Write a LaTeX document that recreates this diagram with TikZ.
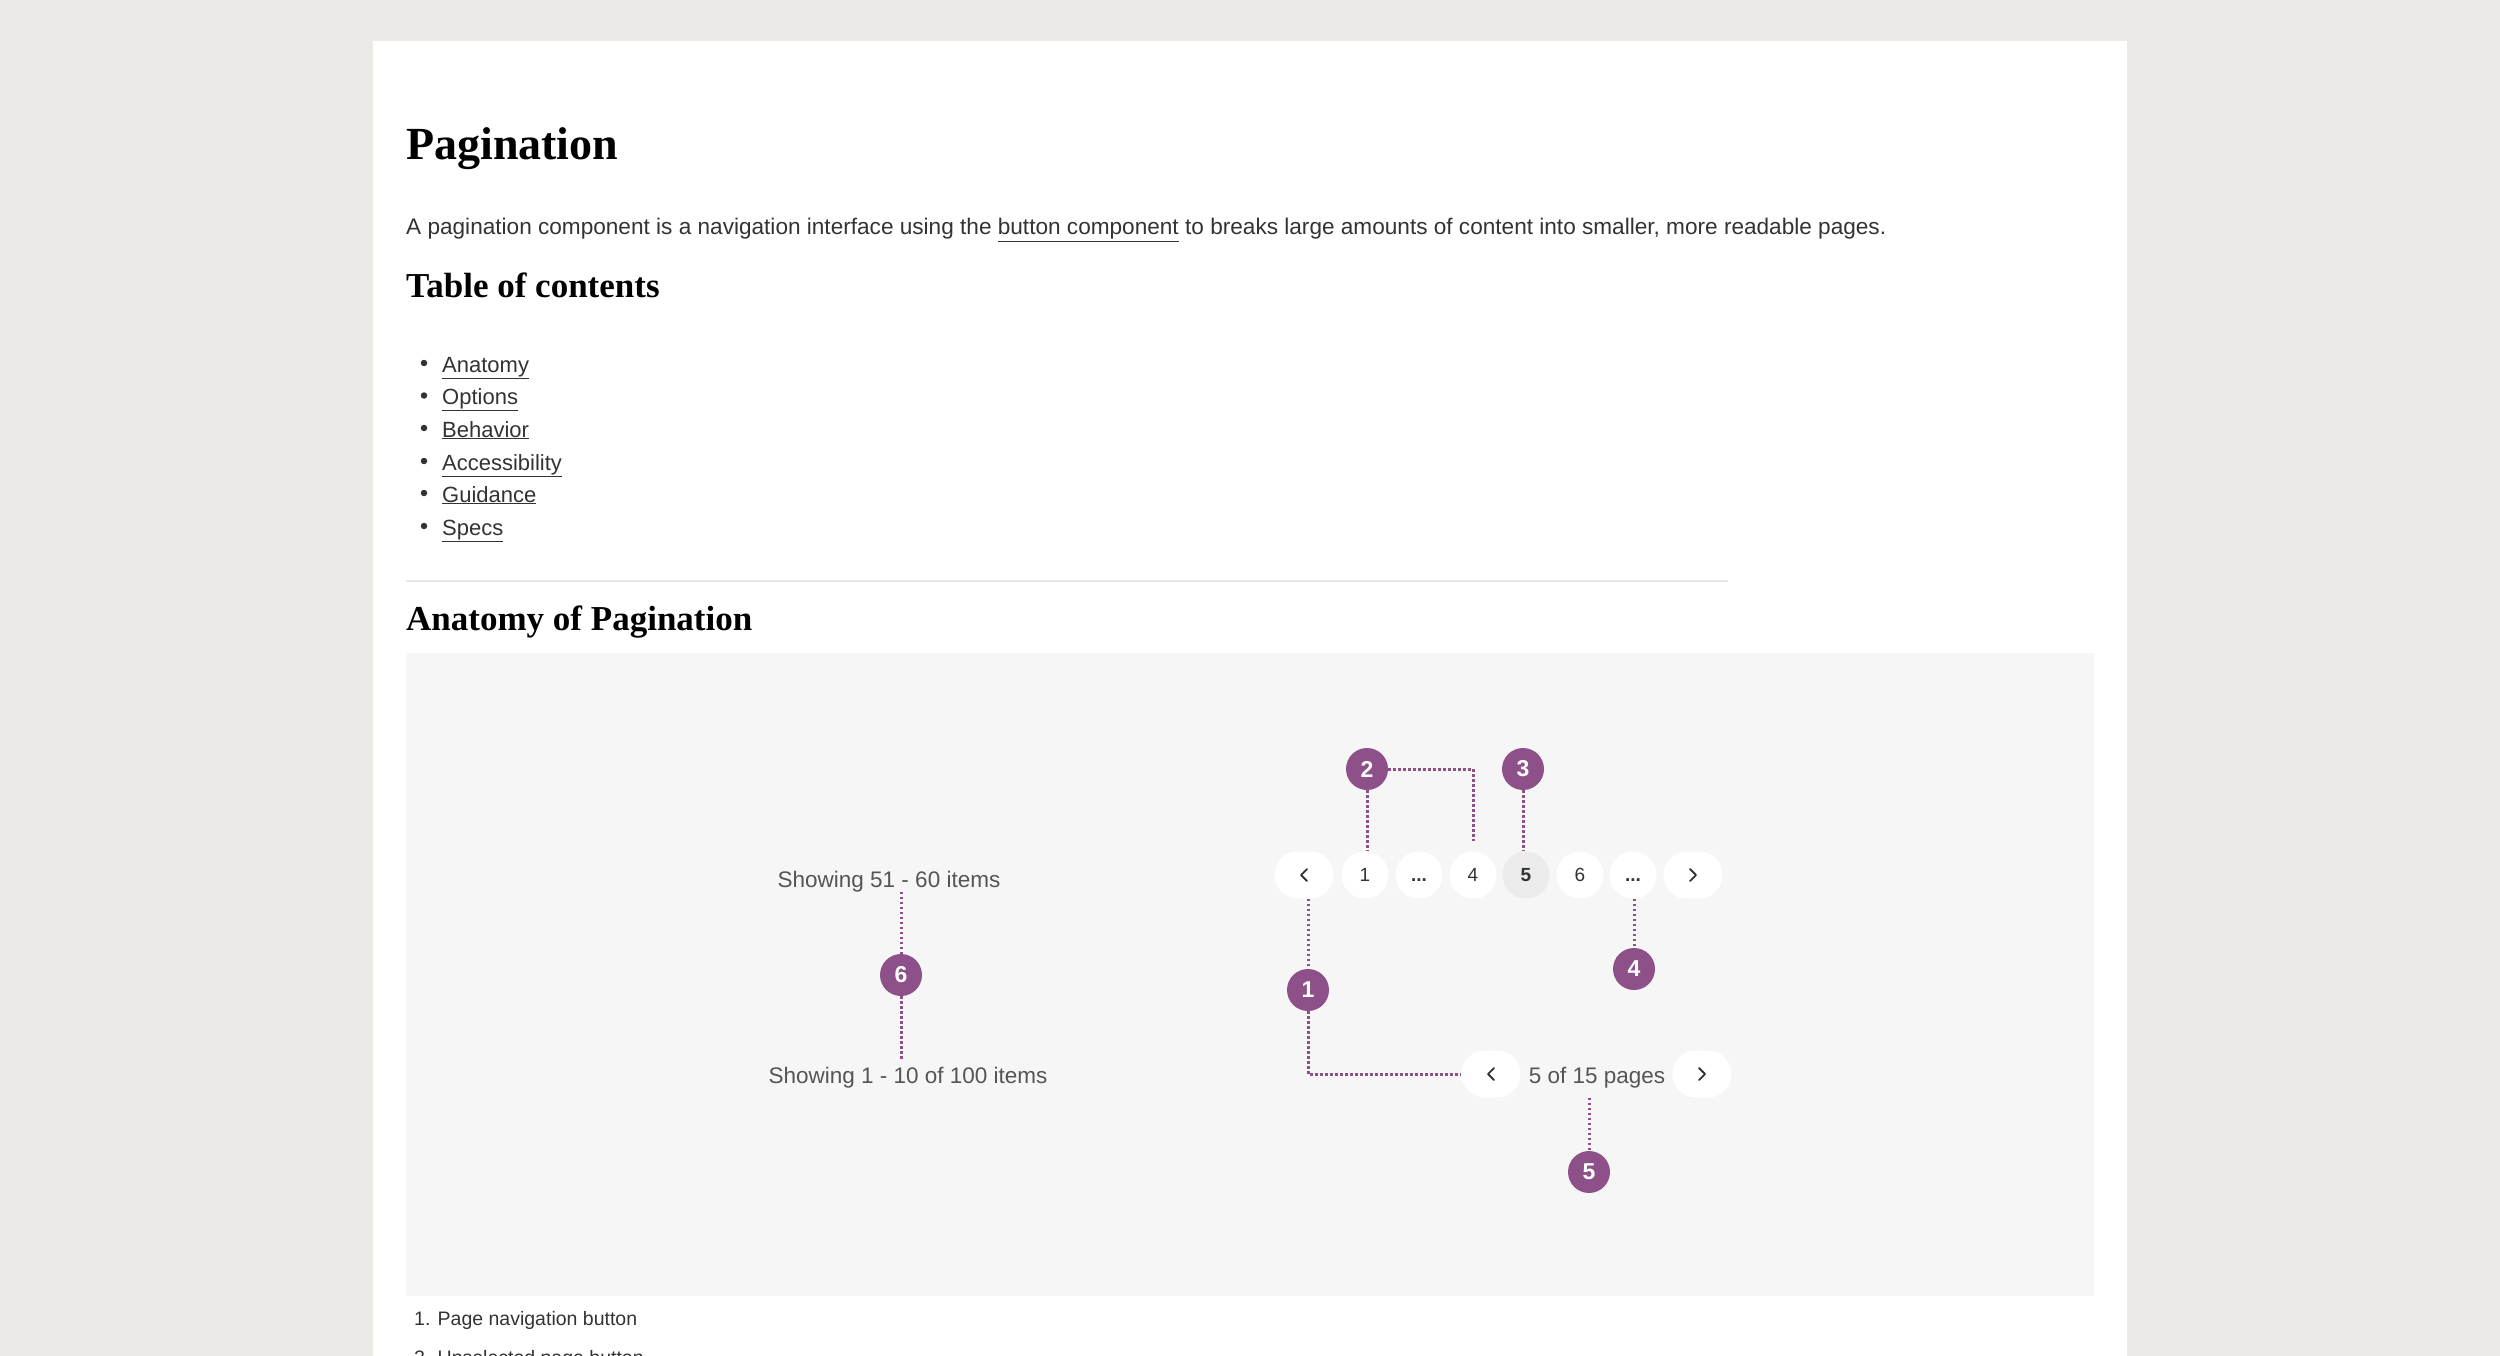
\documentclass[tikz,border=0pt]{standalone}
\usepackage{fontspec}
\setmainfont{Liberation Serif}
\setsansfont{Liberation Sans}
\usetikzlibrary{calc}
\definecolor{bgout}{RGB}{236,234,230}
\definecolor{panelc}{RGB}{246,246,246}
\definecolor{purp}{RGB}{142,80,137}
\definecolor{txt}{RGB}{51,51,51}
\definecolor{gtxt}{RGB}{85,85,85}
\definecolor{rulec}{RGB}{229,232,236}
\definecolor{selbg}{RGB}{235,235,235}
\newcommand{\myfs}[1]{\fontsize{#1}{#1}\selectfont}
\tikzset{
  heading/.style={anchor=base west, inner sep=0pt, font=\rmfamily\bfseries\myfs{35}, text=black},
  body/.style={anchor=base west, inner sep=0pt, font=\sffamily\myfs{22}, text=txt},
  panelt/.style={anchor=base, inner sep=0pt, font=\sffamily\myfs{22.5}, text=gtxt},
  bulletdot/.style={circle, fill=txt, minimum size=6.5pt, inner sep=0pt},
  circbtn/.style={circle, fill=white, minimum size=47pt, inner sep=0pt, text height=13.6pt, text depth=0pt, font=\sffamily\myfs{19}, text=txt},
  pillbtn/.style={rectangle, rounded corners=23.5pt, fill=white, minimum width=59pt, minimum height=47pt, inner sep=0pt},
  marker/.style={circle, fill=purp, minimum size=42pt, inner sep=0pt, text=white, font=\sffamily\bfseries\myfs{23}},
  lead/.style={draw=purp, line width=3pt, dash pattern=on 2.5pt off 2.5pt},
  chev/.style={draw=txt, line width=1.8pt, line cap=round, line join=round}
}
\begin{document}
\begin{tikzpicture}[x=1pt,y=-1pt]
\useasboundingbox (0,0) rectangle (2500,1356);
\fill[bgout] (0,0) rectangle (2500,1356);
\fill[white] (373,41) rectangle (2127,1356);
% header texts
\node[heading, font=\rmfamily\bfseries\myfs{46}] (title) at (406,160) {Pagination};
\node[body, font=\sffamily\myfs{22.6}] (intro) at (406,235) {A pagination component is a navigation interface using the \underline{button component} to breaks large amounts of content into smaller, more readable pages.};
\node[heading] (toc) at (406,298) {Table of contents};
\node[bulletdot] (bu1) at (424,363) {};
\node[bulletdot] (bu2) at (424,395.5) {};
\node[bulletdot] (bu3) at (424,428) {};
\node[bulletdot] (bu4) at (424,461) {};
\node[bulletdot] (bu5) at (424,493) {};
\node[bulletdot] (bu6) at (424,526) {};
\node[body] (li1) at (442,372) {\underline{Anatomy}};
\node[body] (li2) at (442,404.5) {\underline{Options}};
\node[body] (li3) at (442,437) {\underline{Behavior}};
\node[body] (li4) at (442,470) {\underline{Accessibility}};
\node[body] (li5) at (442,502) {\underline{Guidance}};
\node[body] (li6) at (442,535) {\underline{Specs}};
\draw[rulec, line width=2.5pt] (406,581) -- (1728,581);
\node[heading] (anat) at (406,630) {Anatomy of Pagination};
% panel
\fill[panelc] (406,653) rectangle (2094,1296);
% left texts
\node[panelt] (s1) at (889,887) {Showing 51 - 60 items};
\node[panelt] (s2) at (908,1083) {Showing 1 - 10 of 100 items};
% first pagination
\node[pillbtn] (bprev) at (1304,875) {};
\node[circbtn] (b1) at (1365,875) {1};
\node[circbtn] (bd1) at (1419,875) {\textbf{...}};
\node[circbtn] (b4) at (1473,875) {4};
\node[circbtn, fill=selbg] (b5) at (1526,875) {\textbf{5}};
\node[circbtn] (b6) at (1580,875) {6};
\node[circbtn] (bd2) at (1633,875) {\textbf{...}};
\node[pillbtn] (bnext) at (1693,875) {};
\draw[chev] ([xshift=3pt,yshift=6pt]bprev.center) -- ([xshift=-3pt]bprev.center) -- ([xshift=3pt,yshift=-6pt]bprev.center);
\draw[chev] ([xshift=-3pt,yshift=6pt]bnext.center) -- ([xshift=3pt]bnext.center) -- ([xshift=-3pt,yshift=-6pt]bnext.center);
% second pagination
\node[pillbtn] (pprev) at (1491,1074) {};
\node[panelt] (ptext) at (1597,1083) {5 of 15 pages};
\node[pillbtn] (pnext) at (1702,1074) {};
\draw[chev] ([xshift=3pt,yshift=6pt]pprev.center) -- ([xshift=-3pt]pprev.center) -- ([xshift=3pt,yshift=-6pt]pprev.center);
\draw[chev] ([xshift=-3pt,yshift=6pt]pnext.center) -- ([xshift=3pt]pnext.center) -- ([xshift=-3pt,yshift=-6pt]pnext.center);
% markers
\node[marker] (m1) at (1308,990) {1};
\node[marker] (m2) at (1367,769) {2};
\node[marker] (m3) at (1523,769) {3};
\node[marker] (m4) at (1634,969) {4};
\node[marker] (m5) at (1589,1172) {5};
\node[marker] (m6) at (901,975) {6};
% leaders
\draw[lead] (m1.north |- bprev.south) -- (m1.north);
\draw[lead] (m1.south) |- (pprev.west);
\draw[lead] (m2.south) -- (m2.south |- b1.north);
\draw[lead] (m2.east) -| ([yshift=10pt]b4.north);
\draw[lead] (m3.south) -- (m3.south |- b5.north);
\draw[lead] (m4.north |- bd2.south) -- (m4.north);
\draw[lead] (m5.north |- pprev.south) -- (m5.north);
\draw[lead] (m6.north |- s1.south) -- (m6.north);
\draw[lead] (m6.south) -- ([yshift=8pt]m6.south |- s2.north);
% caption list
\node[body, font=\sffamily\myfs{19.5}] (c1) at (414,1325) {1. Page navigation button};
\node[body, font=\sffamily\myfs{19.5}] (c2) at (414,1364) {2. Unselected page button};
\end{tikzpicture}
\end{document}
